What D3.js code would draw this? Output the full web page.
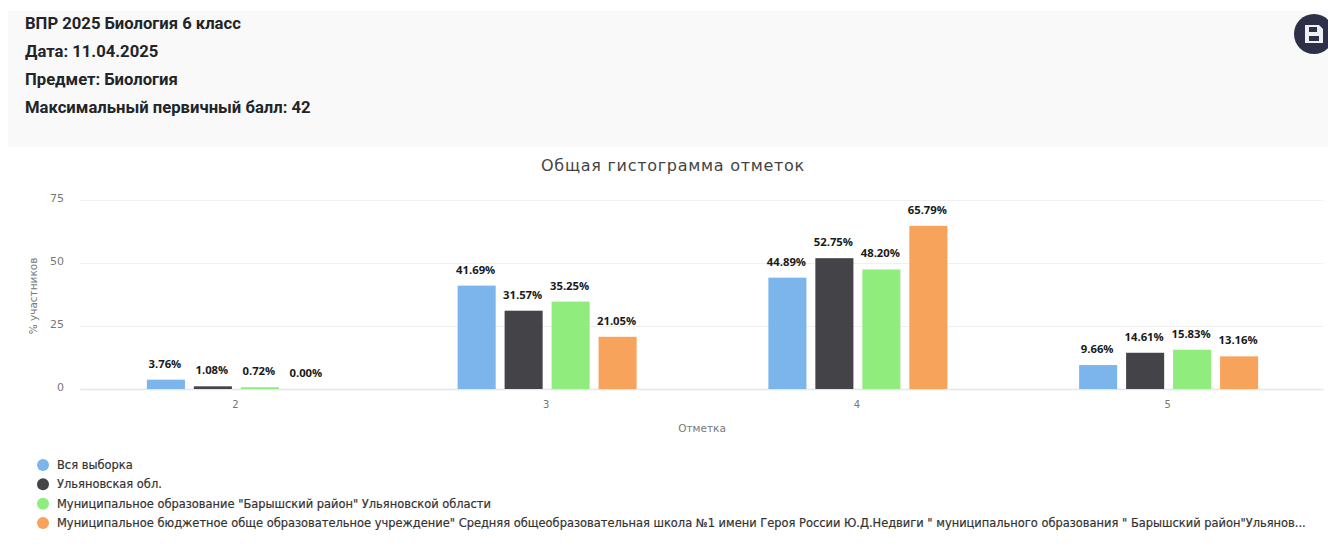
<!DOCTYPE html>
<html><head><meta charset="utf-8">
<script src="https://cdn.jsdelivr.net/npm/d3@7"></script>
<style>html,body{margin:0;padding:0;background:#fff}svg{display:block}</style></head>
<body><svg id="c" width="1328" height="554"></svg>
<script>
const categories = ["2","3","4","5"];
const seriesNames = ["Вся выборка","Ульяновская обл.","Муниципальное образование \"Барышский район\" Ульяновской области","Муниципальное бюджетное обще образовательное учреждение\" Средняя общеобразовательная школа №1 имени Героя России Ю.Д.Недвиги \" муниципального образования \" Барышский район\"Ульянов..."];
const colors = ["#7cb5ec","#434348","#90ed7d","#f7a35c"];
const s0 = [3.76,41.69,44.89,9.66];
const s1 = [1.08,31.57,52.75,14.61];
const s2 = [0.72,35.25,48.20,15.83];
const s3 = [0.00,21.05,65.79,13.16];
const seriesValues = [s0,s1,s2,s3];
const yTicks = [0,25,50,75];
const headerLines = ["ВПР 2025 Биология 6 класс","Дата: 11.04.2025","Предмет: Биология","Максимальный первичный балл: 42"];

const svg = d3.select("#c");
const W = 1328;
svg.append("rect").attr("x",8).attr("y",11).attr("width",W-8).attr("height",136).attr("fill","#f9f9f9");
headerLines.forEach((t,i)=>svg.append("text").attr("x",25).attr("y",29+i*28)
  .attr("font-family","Roboto").attr("font-weight",700).attr("font-size",16.65).attr("fill","#212529").text(t));

// save button
const btn = svg.append("g").attr("transform","translate(1314,34)");
btn.append("circle").attr("r",20).attr("fill","#2d3047");
btn.append("path").attr("fill-rule","evenodd").attr("fill","#eef0f4")
  .attr("d","M-9,-9H5L9,-5V9H-9Z M-5,-7V-2H3V-7Z M-5,2V7H5V2Z");

const x0 = d3.scaleBand().domain(categories).range([80,1323]);
const x1 = d3.scaleBand().domain(d3.range(4)).range([0,179]).paddingInner(0.19).paddingOuter(0);
const y = d3.scaleLinear().domain([0,75]).range([389,200]);
const yBar = d3.scaleLinear().domain([0,75]).range([389,203]);

svg.append("text").attr("x",673).attr("y",171).attr("text-anchor","middle")
  .attr("font-family","DejaVu Sans").attr("font-size",16).attr("letter-spacing",0.72).attr("fill","#444").text("Общая гистограмма отметок");

const yAxis = svg.append("g").attr("transform","translate(80,0)")
  .call(d3.axisLeft(y).tickValues(yTicks).tickSize(-1243).tickPadding(16).tickFormat(d3.format("d")));
yAxis.select(".domain").remove();
yAxis.selectAll("line").attr("stroke","#f0f0f3").attr("stroke-width",1);
yAxis.selectAll("text").attr("font-family","DejaVu Sans").attr("font-size",11).attr("fill","#777").attr("dy","0.1em");

const xAxis = svg.append("g").attr("transform","translate(0,389)")
  .call(d3.axisBottom(x0).tickSize(0).tickPadding(12));
xAxis.select(".domain").attr("stroke","#e3e6ee").attr("stroke-width",1.5);
xAxis.selectAll("text").attr("font-family","DejaVu Sans").attr("font-size",10).attr("fill","#777");

svg.append("text").attr("transform","translate(37,296) rotate(-90)").attr("text-anchor","middle")
  .attr("font-family","DejaVu Sans").attr("font-size",10.5).attr("fill","#777").text("% участников");
svg.append("text").attr("x",702).attr("y",432).attr("text-anchor","middle")
  .attr("font-family","DejaVu Sans").attr("font-size",10.5).attr("fill","#777").text("Отметка");

const groups = svg.selectAll(".cat").data(categories).join("g").attr("class","cat")
  .attr("transform",d=>`translate(${x0(d)+x0.bandwidth()/2-88.5},0)`);
seriesValues.forEach((vals,si)=>{
  groups.append("rect").attr("x",x1(si)).attr("width",x1.bandwidth())
    .attr("y",(d,i)=>yBar(vals[i])).attr("height",(d,i)=>yBar(0)-yBar(vals[i])).attr("fill",colors[si]);
  groups.append("text").attr("x",x1(si)+x1.bandwidth()/2-1).attr("y",(d,i)=>yBar(vals[i])-12)
    .attr("text-anchor","middle").attr("font-family","Open Sans").attr("font-weight",700).attr("font-size",11.3)
    .attr("fill","#1a1a1a").text((d,i)=>vals[i].toFixed(2)+"%");
});

const legendY = d3.scalePoint().domain(d3.range(4)).range([465,523]);
seriesNames.forEach((n,i)=>{
  svg.append("circle").attr("cx",43).attr("cy",legendY(i)).attr("r",6).attr("fill",colors[i]);
  svg.append("text").attr("x",57).attr("y",legendY(i)+4).attr("font-family","DejaVu Sans")
    .attr("font-size",11.45).attr("fill","#333").attr("stroke","#333").attr("stroke-width",0.2).text(n);
});
</script></body></html>
